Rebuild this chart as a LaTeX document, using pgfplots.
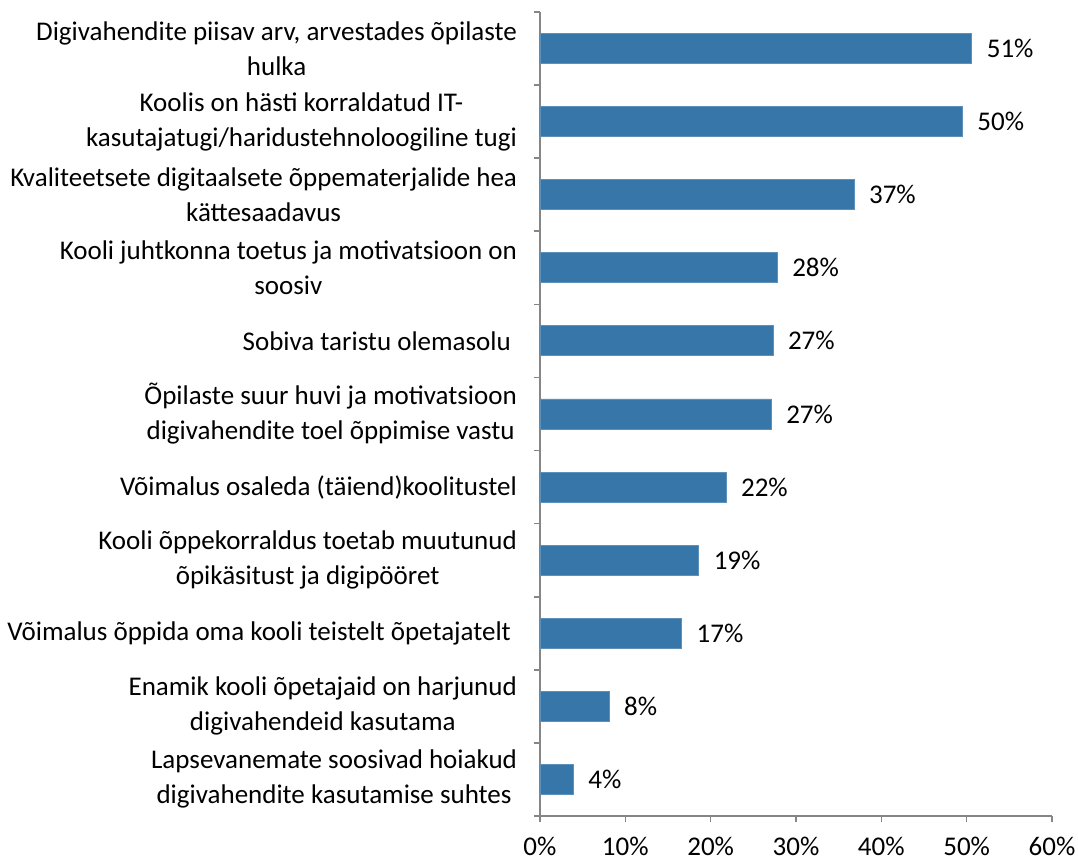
\documentclass[border=0pt]{standalone}
\usepackage{pgfplots}
\pgfplotsset{compat=1.18}
\usepackage{fontspec}
\setmainfont{Carlito}
\definecolor{barblue}{RGB}{54,118,168}
\definecolor{axisgray}{RGB}{134,134,134}
\begin{document}
\begin{tikzpicture}
\useasboundingbox (-270pt,-24.5pt) rectangle (269pt,408pt);
\begin{axis}[
  at={(0,0)}, anchor=south west,
  scale only axis,
  width=256pt, height=402pt,
  xmin=0, xmax=60,
  ymin=-0.5, ymax=10.5,
  axis x line=bottom, axis y line=left,
  axis line style={-, draw=axisgray, line width=0.8pt},
  tick align=outside,
  major tick length=3pt,
  minor tick length=3pt,
  every tick/.style={draw=axisgray, line width=0.8pt},
  xtick={0,10,...,60},
  xticklabel={\pgfmathprintnumber{\tick}\%},
  ytick={0,...,10},
  ytick style={draw=none},
  minor ytick={-0.5,0.5,...,10.5},
  minor y tick style={draw=axisgray, line width=0.8pt},
  /pgf/number format/assume math mode=true,
  every tick label/.append style={font=\fontsize{13.5}{17.5}\selectfont, text=black},
  yticklabel style={align=center, xshift=-5pt},
  xticklabel style={yshift=-4pt},
  yticklabels={
    {Lapsevanemate soosivad hoiakud\\digivahendite kasutamise suhtes\hspace{3pt}},
    {Enamik kooli õpetajaid on harjunud\\digivahendeid kasutama},
    {Võimalus õppida oma kooli teistelt õpetajatelt\hspace{3pt}},
    {Kooli õppekorraldus toetab muutunud\\õpikäsitust ja digipööret},
    {Võimalus osaleda (täiend)koolitustel},
    {Õpilaste suur huvi ja motivatsioon\\digivahendite toel õppimise vastu},
    {Sobiva taristu olemasolu\hspace{3pt}},
    {Kooli juhtkonna toetus ja motivatsioon on\\soosiv},
    {Kvaliteetsete digitaalsete õppematerjalide hea\\kättesaadavus},
    {Koolis on hästi korraldatud IT-\\kasutajatugi/haridustehnoloogiline tugi\hspace{3pt}},
    {Digivahendite piisav arv, arvestades õpilaste\hspace{3pt}\\hulka}
  },
  xbar,
  bar width=15pt,
  point meta=explicit,
  nodes near coords={\pgfmathprintnumber{\pgfplotspointmeta}\%},
  nodes near coords style={font=\fontsize{13.5}{17.5}\selectfont, text=black, anchor=west, xshift=4pt},
  clip=false,
]
\addplot[fill=barblue, draw=barblue!80!white] table[x=x, y=y, meta=lab] {
y x lab
0 3.9 4
1 8.1 8
2 16.6 17
3 18.6 19
4 21.8 22
5 27.1 27
6 27.3 27
7 27.8 28
8 36.8 37
9 49.5 50
10 50.6 51
};
\end{axis}
\end{tikzpicture}
\end{document}
